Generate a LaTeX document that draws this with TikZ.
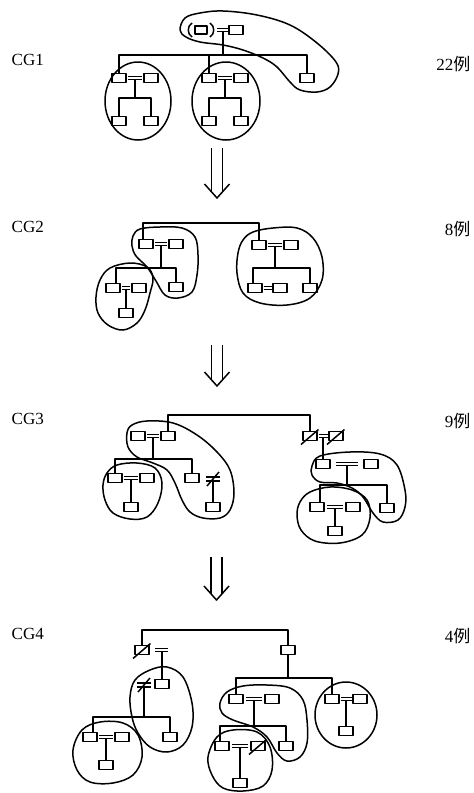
\documentclass[tikz,border=0pt]{standalone}
\usepackage{fontspec}
\setmainfont{Liberation Serif}
\newfontfamily\cjk{Noto Sans CJK SC}
\usetikzlibrary{calc}
\newcommand\eqpair[3][2pt]{%
  \draw[shorten <=#1,shorten >=#1] ([yshift=1.7pt]#2.east) -- ([yshift=1.7pt]#3.west);
  \draw[shorten <=#1,shorten >=#1] ([yshift=-1.7pt]#2.east) -- ([yshift=-1.7pt]#3.west);}
\newcommand\slashbox[1]{\draw ([shift={(-2pt,-4pt)}]#1.south west) -- ([shift={(1.5pt,2pt)}]#1.north east);}
\newcommand\bigdown[3]{%
  \draw (#1-5.5,#2) -- (#1-5.5,#3-6.2);
  \draw (#1+5.5,#2) -- (#1+5.5,#3-6.2);
  \draw (#1-12.5,#3-14) -- (#1,#3) -- (#1+12.5,#3-14);}
\newcommand\neqsym[1]{%
  \draw ([xshift=-7pt,yshift=2pt]#1) -- ([xshift=7pt,yshift=2pt]#1);
  \draw ([xshift=-7pt,yshift=-2pt]#1) -- ([xshift=7pt,yshift=-2pt]#1);
  \draw ([xshift=-6pt,yshift=-7pt]#1) -- ([xshift=6pt,yshift=7pt]#1);}
\begin{document}
\begin{tikzpicture}[x=1pt,y=-1pt,line width=1.5pt,line join=round,
  bx/.style={draw,minimum width=14pt,minimum height=9pt,inner sep=0pt,outer sep=0pt},
  lbl/.style={font=\fontsize{17}{17}\selectfont,inner sep=0pt},
  grp/.style={line width=1.5pt},
]
\useasboundingbox[fill=white] (0,0) rectangle (474,793);

% ---------------- labels
\node[lbl,anchor=west] (cg1) at (11,60) {CG1};
\node[lbl,anchor=east] (n1) at (471,64) {22{\cjk 例}};
\node[lbl,anchor=west] (cg2) at (11,227) {CG2};
\node[lbl,anchor=east] (n2) at (471,229) {8{\cjk 例}};
\node[lbl,anchor=west] (cg3) at (11,419) {CG3};
\node[lbl,anchor=east] (n3) at (471,421) {9{\cjk 例}};
\node[lbl,anchor=west] (cg4) at (11,634) {CG4};
\node[lbl,anchor=east] (n4) at (471,636) {4{\cjk 例}};

% ---------------- arrows
\bigdown{217}{148}{198}
\bigdown{217}{345}{386}
\bigdown{216.5}{557}{600}

% ================= CG1
\node[bx,minimum width=12pt,minimum height=8pt] (t1L) at (201,30) {};
\node[bx] (t1R) at (236,30) {};
\draw (192,23) .. controls (187,26) and (187,34) .. (192,37);
\draw (210,23) .. controls (215,26) and (215,34) .. (210,37);
\coordinate (t1m) at (223,30);
\draw ([xshift=-6pt,yshift=1.7pt]t1m) -- ([xshift=5pt,yshift=1.7pt]t1m);
\draw ([xshift=-6pt,yshift=-1.7pt]t1m) -- ([xshift=5pt,yshift=-1.7pt]t1m);
\coordinate (h1) at (223,55);
\node[bx] (a1) at (119,78) {};
\node[bx] (a2) at (151,78) {};
\node[bx] (b1) at (209,78) {};
\node[bx] (b2) at (241,78) {};
\node[bx] (c1) at (307,78) {};
\draw ([yshift=-1.7pt]t1m) -- (h1);
\draw (a1.north) |- (h1) -| (c1.north);
\draw (b1.north) -- (b1.north |- h1);
% left subtree
\eqpair{a1}{a2}
\coordinate (ma) at ($(a1.east)!.5!(a2.west)$);
\coordinate (ha) at (ma |- 0,98);
\node[bx] (a3) at (119,121) {};
\node[bx] (a4) at (151,121) {};
\draw ([yshift=-1.7pt]ma) -- (ha);
\draw (a3.north) |- (ha) -| (a4.north);
% middle subtree
\eqpair{b1}{b2}
\coordinate (mb) at ($(b1.east)!.5!(b2.west)$);
\coordinate (hb) at (mb |- 0,98);
\node[bx] (b3) at (209,121) {};
\node[bx] (b4) at (241,121) {};
\draw ([yshift=-1.7pt]mb) -- (hb);
\draw (b3.north) |- (hb) -| (b4.north);
% groups
\draw[grp] (138,101) ellipse [x radius=33pt, y radius=39pt];
\draw[grp] (226,101) ellipse [x radius=34pt, y radius=39pt];
\draw[grp] plot[smooth cycle,tension=0.6] coordinates {(180,30) (185,18) (200,13) (223,11) (257,15) (290,25) (317,43) (336,62) (338,74) (330,87) (317,92) (300,90) (290,82) (277,67) (263,58) (243,50) (223,45) (200,42) (186,37)};

% ================= CG2
\node[bx] (A2) at (146,244) {};
\node[bx] (B2) at (176,244) {};
\node[bx] (G2) at (259,245) {};
\node[bx] (H2) at (291,245) {};
\coordinate (h2) at (200,223);
\draw ([xshift=-3pt]A2.north) |- (h2) -| (G2.north);
\eqpair{A2}{B2}
\coordinate (mAB) at ($(A2.east)!.5!(B2.west)$);
\coordinate (hAB) at (mAB |- 0,268);
\node[bx] (C2) at (176,287) {};
\node[bx] (D2) at (113,288) {};
\node[bx] (E2) at (139,288) {};
\draw ([yshift=-1.7pt]mAB) -- (hAB);
\draw ([xshift=3pt]D2.north) |- (hAB) -| (C2.north);
\eqpair{D2}{E2}
\coordinate (mDE) at ($(D2.east)!.5!(E2.west)$);
\node[bx] (F2) at (mDE |- 0,313) {};
\draw ([yshift=-1.7pt]mDE) -- (F2.north);
\eqpair{G2}{H2}
\coordinate (mGH) at ($(G2.east)!.5!(H2.west)$);
\coordinate (hGH) at (mGH |- 0,268);
\node[bx] (I2) at (255,288) {};
\node[bx] (J2) at (280,288) {};
\node[bx] (K2) at (310,288) {};
\draw ([yshift=-1.7pt]mGH) -- (hGH);
\draw ([xshift=-2pt]I2.north) |- (hGH) -| (K2.north);
\eqpair[1.5pt]{I2}{J2}
\draw[grp] plot[smooth cycle,tension=0.6] coordinates {(133,236) (140,229) (160,227) (182,228) (195,237) (198,255) (197,275) (192,292) (178,298) (165,295) (156,281) (147,267) (136,256) (132,246)};
\draw[grp] plot[smooth cycle,tension=0.6] coordinates {(100,280) (110,268) (130,263) (147,267) (153,278) (150,293) (145,310) (137,323) (123,330) (108,325) (98,313) (96,297)};
\draw[grp] plot[smooth cycle,tension=0.6] coordinates {(243,240) (253,232) (273,228) (297,228) (313,238) (322,257) (322,280) (310,298) (287,305) (260,303) (243,293) (237,273) (238,253)};

% ================= CG3
\node[bx] (A3) at (138,436) {};
\node[bx] (B3) at (168,436) {};
\node[bx] (S1) at (310,436) {};
\node[bx] (S2) at (336,436) {};
\slashbox{S1}
\slashbox{S2}
\coordinate (h3) at (240,415);
\draw (B3.north) |- (h3) -| (S1.north);
\eqpair{A3}{B3}
\coordinate (mA3) at ($(A3.east)!.5!(B3.west)$);
\coordinate (hA3) at (mA3 |- 0,459);
\node[bx] (D3) at (115,478) {};
\node[bx] (E3) at (147,478) {};
\node[bx] (C3) at (192,478) {};
\draw ([yshift=-1.7pt]mA3) -- (hA3);
\draw (D3.north) |- (hA3) -| (C3.north);
\eqpair{D3}{E3}
\coordinate (mD3) at ($(D3.east)!.5!(E3.west)$);
\node[bx] (F3) at (mD3 |- 0,507) {};
\draw ([yshift=-1.7pt]mD3) -- (F3.north);
\coordinate (ne3) at (213,479);
\neqsym{ne3}
\node[bx] (G3) at (213,507) {};
\draw ([yshift=-2pt]ne3) -- (G3.north);
% right
\eqpair[1.5pt]{S1}{S2}
\coordinate (mS) at ($(S1.east)!.5!(S2.west)$);
\node[bx] (R1) at (mS |- 0,464) {};
\node[bx] (R2) at (371,464) {};
\draw ([yshift=-1.7pt]mS) -- (R1.north);
\eqpair[6pt]{R1}{R2}
\coordinate (mR) at ($(R1.east)!.5!(R2.west)$);
\coordinate (hR) at (mR |- 0,485);
\node[bx] (R4) at (317,507) {};
\node[bx] (R5) at (353,507) {};
\node[bx] (R3) at (387,508) {};
\draw ([yshift=-1.7pt]mR) -- (hR);
\draw ([xshift=3pt]R4.north) |- (hR) -| (R3.north);
\eqpair[3pt]{R4}{R5}
\coordinate (mR4) at ($(R4.east)!.5!(R5.west)$);
\node[bx] (R6) at (mR4 |- 0,531) {};
\draw ([yshift=-1.7pt]mR4) -- (R6.north);
\draw[grp] plot[smooth cycle,tension=0.6] coordinates {(127,433) (132,425) (147,421) (173,423) (197,435) (217,452) (230,470) (234,493) (230,510) (220,518) (203,518) (190,512) (182,500) (175,483) (167,470) (153,463) (137,457) (128,447)};
\draw[grp] plot[smooth cycle,tension=0.6] coordinates {(107,473) (117,465) (137,463) (155,468) (162,483) (158,503) (147,517) (130,519) (113,513) (105,500) (103,485)};
\draw[grp] plot[smooth cycle,tension=0.6] coordinates {(312,466) (320,456) (350,452) (380,454) (397,465) (405,490) (405,507) (398,520) (383,522) (373,513) (363,497) (352,488) (337,483) (320,482) (312,475)};
\draw[grp] plot[smooth cycle,tension=0.6] coordinates {(300,502) (310,492) (330,487) (352,490) (367,500) (370,518) (362,535) (340,543) (315,541) (301,530) (297,515)};

% ================= CG4
\node[bx] (SB4) at (142,650) {};
\slashbox{SB4}
\node[bx] (P4) at (288,650) {};
\coordinate (h4) at (214,630);
\draw (SB4.north) |- (h4) -| (P4.north);
\coordinate (e4) at (162,650);
\draw ([xshift=-7pt,yshift=1.7pt]e4) -- ([xshift=6pt,yshift=1.7pt]e4);
\draw ([xshift=-7pt,yshift=-1.7pt]e4) -- ([xshift=6pt,yshift=-1.7pt]e4);
\node[bx] (Q4) at (162,684) {};
\draw ([yshift=-1.7pt]e4) -- (Q4.north);
\coordinate (ne4) at (144,685);
\neqsym{ne4}
\coordinate (hQ) at (144,717);
\node[bx] (L4a) at (90,737) {};
\node[bx] (L4b) at (122,737) {};
\node[bx] (L4c) at (170,737) {};
\draw ([yshift=-2pt]ne4) -- (hQ);
\draw ([xshift=3pt]L4a.north) |- (hQ) -| (L4c.north);
\eqpair{L4a}{L4b}
\coordinate (mL4) at ($(L4a.east)!.5!(L4b.west)$);
\node[bx] (L4d) at (mL4 |- 0,765) {};
\draw ([yshift=-1.7pt]mL4) -- (L4d.north);
% right side
\coordinate (hP) at (288,678);
\node[bx] (M1) at (236,699) {};
\node[bx] (M2) at (272,699) {};
\node[bx] (N1) at (332,699) {};
\node[bx] (N2) at (360,699) {};
\draw (P4.south) -- (hP);
\draw (M1.north) |- (hP) -| (N1.north);
\eqpair[3pt]{M1}{M2}
\coordinate (mM) at ($(M1.east)!.5!(M2.west)$);
\coordinate (hM) at (mM |- 0,726);
\node[bx] (X1) at (222,746) {};
\node[bx] (X2) at (258,746) {};
\node[bx] (X3) at (286,746) {};
\slashbox{X2}
\draw ([yshift=-1.7pt]mM) -- (hM);
\draw ([xshift=-2pt]X1.north) |- (hM) -| (X3.north);
\eqpair[3pt]{X1}{X2}
\coordinate (mX) at ($(X1.east)!.5!(X2.west)$);
\node[bx] (X4) at (mX |- 0,783) {};
\draw ([yshift=-1.7pt]mX) -- (X4.north);
\eqpair[1.5pt]{N1}{N2}
\coordinate (mN) at ($(N1.east)!.5!(N2.west)$);
\node[bx] (N3) at (mN |- 0,731) {};
\draw ([yshift=-1.7pt]mN) -- (N3.north);
% groups
\draw[grp] plot[smooth cycle,tension=0.6] coordinates {(130,697) (135,680) (150,670) (167,667) (183,677) (192,703) (192,727) (183,745) (167,752) (150,747) (138,733) (132,717)};
\draw[grp] plot[smooth cycle,tension=0.6] coordinates {(73,750) (82,730) (100,722) (123,723) (138,735) (142,757) (133,775) (113,783) (90,782) (77,770)};
\draw[grp] plot[smooth cycle,tension=0.6] coordinates {(220,703) (227,692) (243,686) (267,685) (290,688) (303,700) (307,720) (307,743) (300,757) (287,761) (277,753) (267,737) (253,727) (233,720) (222,713)};
\draw[grp] plot[smooth cycle,tension=0.6] coordinates {(208,757) (217,737) (233,730) (257,732) (270,747) (272,770) (263,786) (243,791) (223,788) (212,775)};
\draw[grp] (346,715) ellipse [x radius=31pt, y radius=33pt];
\end{tikzpicture}
\end{document}
